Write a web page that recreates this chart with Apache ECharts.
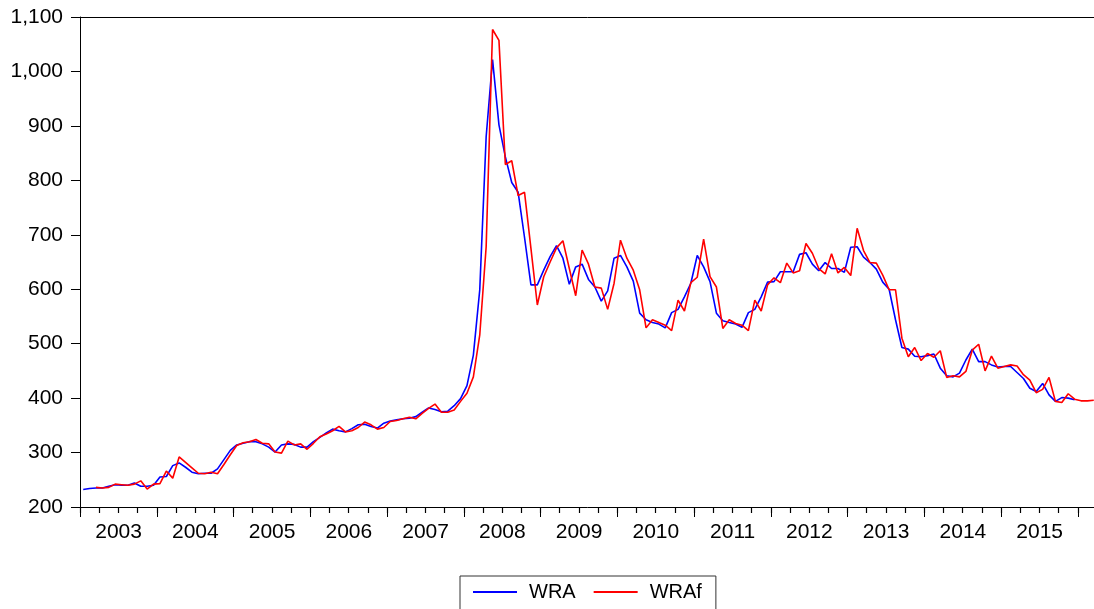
<!DOCTYPE html>
<html>
<head>
<meta charset="utf-8">
<title>WRA / WRAf</title>
<script src="https://cdn.jsdelivr.net/npm/echarts@6/dist/echarts.min.js"></script>
<style>
  html, body { margin: 0; padding: 0; background: #fff; }
  #chart { width: 1094px; height: 609px; }
</style>
</head>
<body>
<div id="chart"></div>
<script>
// monthly observations, 2003M01 .. 2016M03
const startYear = 2003;
const monthCount = 159;
const months = [];
for (let i = 0; i < monthCount; i++) {
  const y = startYear + Math.floor(i / 12);
  const m = (i % 12) + 1;
  months.push(y + "M" + (m < 10 ? "0" + m : m));
}

const yTicks = [200, 300, 400, 500, 600, 700, 800, 900, 1000, 1100];

// WRA: 2003M01 .. 2015M12
const wra = [
  232, 234, 235, 235, 238, 241, 240, 240, 244, 238, 238, 240,
  255, 256, 276, 281, 273, 264, 261, 262, 262, 270, 287, 304,
  314, 317, 320, 320, 316, 310, 301, 314, 316, 315, 310, 310,
  320, 328, 336, 343, 340, 338, 344, 351, 352, 348, 345, 354,
  358, 360, 362, 363, 366, 374, 382, 379, 375, 376, 386, 399,
  423, 479, 599, 880, 1022, 902, 843, 796, 778, 695, 608, 608,
  635, 660, 680, 657, 609, 641, 646, 618, 604, 578, 597, 657,
  662, 641, 615, 556, 544, 539, 536, 529, 557, 563, 586, 611,
  662, 641, 614, 556, 542, 539, 536, 530, 557, 563, 586, 613,
  614, 632, 632, 632, 664, 667, 646, 634, 649, 638, 638, 631,
  677, 678, 659, 649, 637, 613, 600, 544, 493, 490, 477, 476,
  478, 481, 455, 441, 439, 446, 470, 490, 467, 467, 461, 457,
  458, 458, 447, 436, 418, 412, 427, 406, 394, 401, 400, 397
];

// WRAf: 2003M03 .. 2016M03
const wraf = [
  null, null, 236, 235, 236, 242, 241, 240, 242, 248, 233, 242,
  243, 266, 253, 292, 282, 272, 262, 261, 264, 261, 278, 296,
  313, 318, 320, 324, 317, 316, 301, 299, 321, 314, 316, 306,
  317, 329, 334, 340, 348, 338, 340, 346, 356, 351, 343, 346,
  357, 359, 362, 365, 362, 372, 381, 389, 374, 374, 378, 394,
  409, 439, 516, 678, 1077, 1057, 829, 836, 772, 778, 675, 571,
  623, 650, 676, 689, 638, 588, 672, 646, 604, 602, 563, 611,
  690, 657, 635, 599, 529, 544, 539, 534, 524, 580, 560, 612,
  622, 692, 623, 604, 528, 544, 537, 534, 524, 580, 560, 608,
  621, 612, 648, 630, 634, 684, 666, 638, 628, 665, 630, 640,
  625, 712, 671, 649, 648, 626, 599, 599, 510, 476, 493, 469,
  482, 475, 487, 438, 441, 439, 449, 488, 499, 450, 477, 455,
  458, 461, 459, 443, 433, 410, 416, 438, 394, 392, 408, 398,
  395, 395, 396
];

const chart = echarts.init(document.getElementById("chart"));
const font = "'Liberation Sans', Arial, sans-serif";

chart.setOption({
  animation: false,
  textStyle: { fontFamily: font, color: "#000" },
  grid: {
    left: 80,
    right: -3,
    top: 17,
    bottom: 102,
    outerBoundsMode: "none",
    show: false
  },
  legend: {
    left: 460,
    top: 576,
    data: ["WRA", "WRAf"],
    icon: "rect",
    itemWidth: 44,
    itemHeight: 2,
    itemGap: 18,
    padding: [6, 14, 10, 13],
    borderColor: "#333",
    borderWidth: 1,
    formatter: function (name) {
      return "{t|" + name + "}";
    },
    textStyle: {
      fontFamily: font,
      rich: {
        t: { fontSize: 20, lineHeight: 24, color: "#000", padding: [0, 0, 0, 7], fontFamily: font }
      }
    }
  },
  xAxis: [
    {
      // month axis: data, year ticks and labels
      type: "category",
      data: months,
      boundaryGap: true,
      axisLine: { show: true, lineStyle: { color: "#000", width: 1 } },
      axisTick: {
        show: true,
        length: 10,
        interval: 11,
        lineStyle: { color: "#000", width: 1 }
      },
      axisLabel: {
        interval: function (i) { return i % 12 === 6; },
        margin: 15,
        formatter: function (v) { return "{y|" + v.slice(0, 4) + "}"; },
        rich: { y: { fontSize: 21, fontFamily: font, color: "#000", padding: [0, 6, 0, 0] } }
      },
      splitLine: { show: false }
    },
    {
      // quarterly minor ticks (months counted from 2003M01)
      type: "value",
      position: "bottom",
      min: 0,
      max: monthCount,
      interval: 3,
      axisLine: { show: false },
      axisTick: { show: true, length: 6, lineStyle: { color: "#000", width: 1.2 } },
      axisLabel: { show: false },
      splitLine: { show: false }
    },
    {
      // top frame line
      type: "category",
      data: months,
      position: "top",
      axisLine: { show: true, lineStyle: { color: "#000", width: 1 } },
      axisTick: { show: false },
      axisLabel: { show: false },
      splitLine: { show: false }
    }
  ],
  yAxis: {
    type: "value",
    min: yTicks[0],
    max: yTicks[yTicks.length - 1],
    interval: 100,
    axisLine: { show: true, lineStyle: { color: "#000", width: 1 } },
    axisTick: { show: true, length: 9, lineStyle: { color: "#000" } },
    axisLabel: {
      margin: 17,
      fontSize: 21,
      fontFamily: font,
      color: "#000",
      formatter: function (v) {
        return String(v).replace(/\B(?=(\d{3})+(?!\d))/g, ",");
      }
    },
    splitLine: { show: false }
  },
  series: [
    {
      name: "WRA",
      type: "line",
      xAxisIndex: 0,
      data: wra,
      showSymbol: false,
      symbol: "none",
      color: "#0000ff",
      lineStyle: { color: "#0000ff", width: 1.6 }
    },
    {
      name: "WRAf",
      type: "line",
      xAxisIndex: 0,
      data: wraf,
      showSymbol: false,
      symbol: "none",
      color: "#ff0000",
      lineStyle: { color: "#ff0000", width: 1.6 }
    }
  ]
});
</script>
</body>
</html>
